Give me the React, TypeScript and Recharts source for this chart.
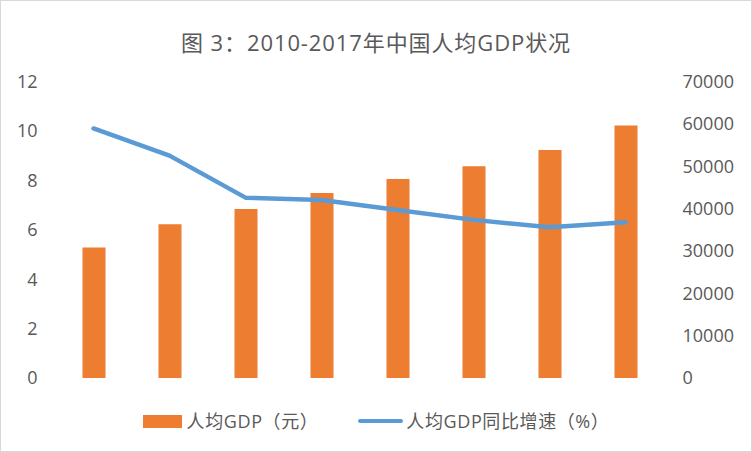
import { Bar, ComposedChart, Legend, Line, XAxis, YAxis } from 'recharts';

const years = ['2010', '2011', '2012', '2013', '2014', '2015', '2016', '2017'];
const gdpPerCapita = [30800, 36300, 39900, 43700, 47000, 50000, 53800, 59600];
const growthRate = [10.1, 9.0, 7.3, 7.2, 6.8, 6.4, 6.1, 6.3];
const leftTicks = [0, 2, 4, 6, 8, 10, 12];
const rightTicks = [0, 10000, 20000, 30000, 40000, 50000, 60000, 70000];

const title = '图 3：2010-2017年中国人均GDP状况';
const barName = '人均GDP（元）';
const lineName = '人均GDP同比增速（%）';

const data = years.map((year, i) => ({ year, gdp: gdpPerCapita[i], rate: growthRate[i] }));

const FONT = '"Open Sans", "Noto Sans CJK SC", sans-serif';
const TEXT = '#595959';
const ORANGE = '#ED7D31';
const BLUE = '#5B9BD5';

function LegendBox() {
  return (
    <div style={{ display: 'flex', justifyContent: 'center', alignItems: 'center', fontFamily: FONT, fontSize: 18, color: TEXT, lineHeight: '26px', letterSpacing: 0.6 }}>
      <span style={{ display: 'inline-block', width: 39, height: 13, background: ORANGE, marginRight: 5 }} />
      <span style={{ marginRight: 40 }}>{barName}</span>
      <span style={{ display: 'inline-block', width: 45, height: 4, borderRadius: 2, background: BLUE, marginRight: 3 }} />
      <span>{lineName}</span>
    </div>
  );
}

export default function App() {
  return (
    <div style={{ position: 'absolute', left: 0, top: 0, width: 752, height: 452, background: '#fff' }}>
      <div style={{ position: 'absolute', left: 0, top: 28, width: 752, textAlign: 'center', fontFamily: FONT, fontSize: 22, lineHeight: '28px', color: TEXT, letterSpacing: 0.9 }}>
        {title}
      </div>
      <ComposedChart width={752} height={452} data={data} margin={{ top: 81.5, right: 0, bottom: 74, left: 0 }}>
        <XAxis dataKey="year" hide />
        <YAxis
          yAxisId="left"
          orientation="left"
          width={55.5}
          domain={[0, 12]}
          ticks={leftTicks}
          axisLine={false}
          tickLine={false}
          tickMargin={12}
          tick={{ fill: TEXT, fontSize: 18, fontFamily: FONT }}
        />
        <YAxis
          yAxisId="right"
          orientation="right"
          width={88.5}
          domain={[0, 70000]}
          ticks={rightTicks}
          axisLine={false}
          tickLine={false}
          tickMargin={13}
          tick={{ fill: TEXT, fontSize: 18, fontFamily: FONT }}
        />
        <Bar yAxisId="right" dataKey="gdp" name={barName} fill={ORANGE} barSize={23} isAnimationActive={false} />
        <Line
          yAxisId="left"
          type="linear"
          dataKey="rate"
          name={lineName}
          stroke={BLUE}
          strokeWidth={4.5}
          strokeLinecap="round"
          strokeLinejoin="round"
          dot={false}
          activeDot={false}
          isAnimationActive={false}
        />
        <Legend verticalAlign="middle" align="center" wrapperStyle={{ top: 408, left: 0, width: 752 }} content={() => <LegendBox />} />
      </ComposedChart>
      <div style={{ position: 'absolute', left: 0, top: 0, width: 752, height: 452, boxSizing: 'border-box', border: '1px solid #d9d9d9', pointerEvents: 'none' }} />
    </div>
  );
}
